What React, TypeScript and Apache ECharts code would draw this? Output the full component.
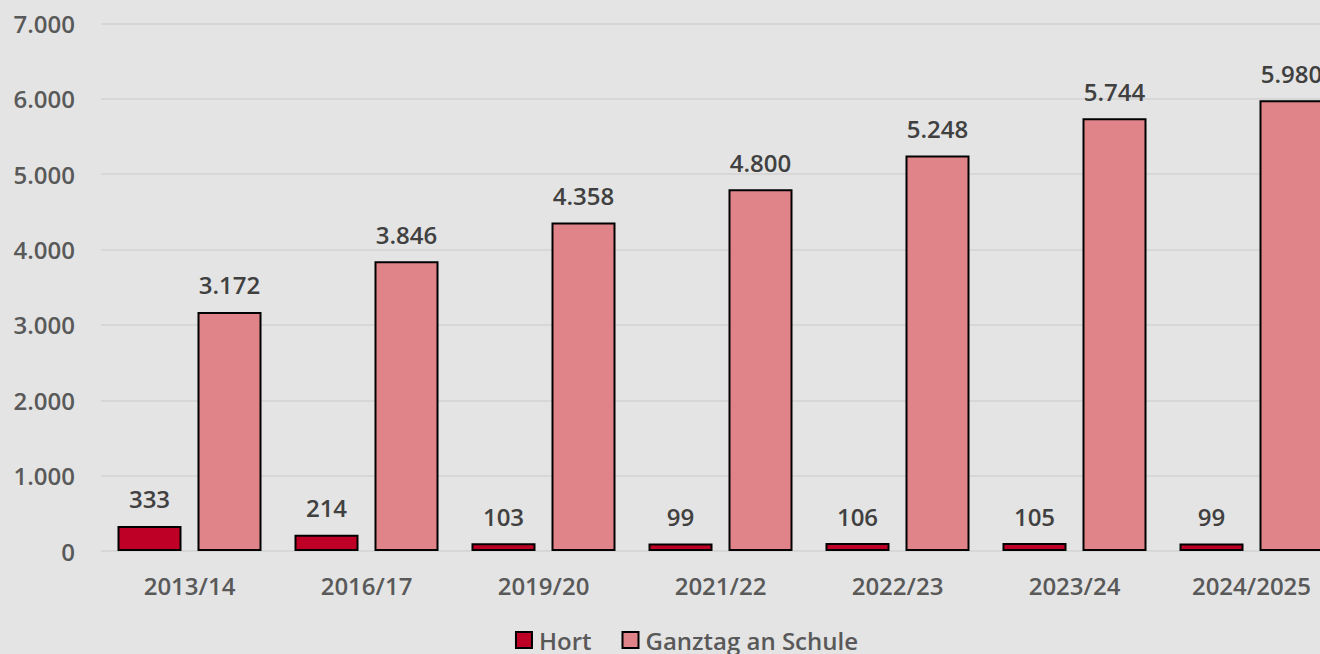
import React, { useEffect, useRef } from "react";
import * as echarts from "echarts";

const categories = ["2013/14", "2016/17", "2019/20", "2021/22", "2022/23", "2023/24", "2024/2025"];
const hortValues = [333, 214, 103, 99, 106, 105, 99];
const ganztagValues = [3172, 3846, 4358, 4800, 5248, 5744, 5980];
const seriesNames = ["Hort", "Ganztag an Schule"];

const fmt = (v: number) => String(v).replace(/\B(?=(\d{3})+(?!\d))/g, ".");

export default function App() {
  const ref = useRef<HTMLDivElement>(null);
  useEffect(() => {
    document.body.style.margin = "0";
    document.body.style.overflow = "hidden";
    const chart = echarts.init(ref.current!, null, { renderer: "svg" });
    const font = "'Open Sans', sans-serif";
    const textColor = "#595959";
    const fs = 24;
    const labelStyle = {
      show: true,
      position: "top",
      distance: 15,
      color: "#404040",
      fontSize: fs,
      fontWeight: 600,
      fontFamily: font,
      formatter: (p: any) => fmt(p.value),
    };
    chart.setOption({
      animation: false,
      backgroundColor: "#e4e4e4",
      textStyle: { fontFamily: font },
      grid: { left: 101, right: 33, top: 23.5, bottom: 103, containLabel: false },
      legend: {
        bottom: -3,
        left: "center",
        itemWidth: 16,
        itemHeight: 16,
        itemGap: 30,
        icon: "rect",
        textStyle: { color: textColor, fontSize: fs, fontWeight: 600, fontFamily: font, padding: [0, 0, 0, 2] },
        data: seriesNames,
      },
      xAxis: {
        type: "category",
        data: categories,
        axisLine: { show: false },
        axisTick: { show: false },
        axisLabel: { color: textColor, fontSize: fs, fontWeight: 600, fontFamily: font, margin: 22 },
      },
      yAxis: {
        type: "value",
        min: 0,
        max: 7000,
        interval: 1000,
        axisLine: { show: false },
        axisTick: { show: false },
        splitLine: { lineStyle: { color: "#d7d7d7", width: 2 } },
        axisLabel: {
          color: textColor,
          fontSize: fs,
          fontWeight: 600,
          fontFamily: font,
          margin: 26,
          formatter: (v: number) => fmt(v),
        },
      },
      series: [
        {
          name: seriesNames[0],
          type: "bar",
          data: hortValues,
          barWidth: 64,
          barGap: "25%",
          itemStyle: { color: "#be0027", borderColor: "#000", borderWidth: 2 },
          label: labelStyle,
        },
        {
          name: seriesNames[1],
          type: "bar",
          data: ganztagValues,
          barWidth: 64,
          barGap: "25%",
          itemStyle: { color: "#e08489", borderColor: "#000", borderWidth: 2 },
          label: labelStyle,
        },
      ],
    });
    return () => chart.dispose();
  }, []);
  return (
    <div style={{ position: "fixed", left: 0, top: 0, width: 1320, height: 654, overflow: "hidden", background: "#e4e4e4" }}>
      <div ref={ref} style={{ width: 1373, height: 654 }} />
    </div>
  );
}
